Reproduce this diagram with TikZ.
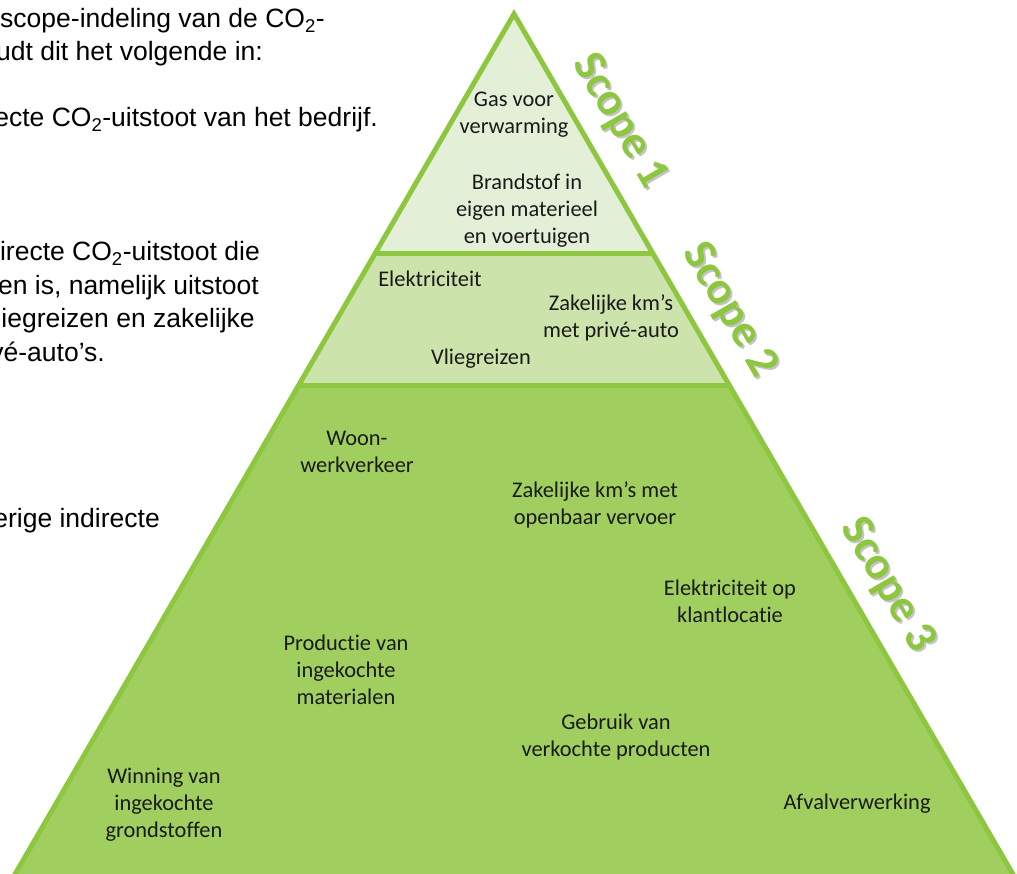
\documentclass[tikz,border=0pt]{standalone}
\usepackage{fontspec}
\setmainfont[Ligatures=NoCommon]{Carlito}
\newfontfamily\arialf{Liberation Sans}
\definecolor{edge}{HTML}{8DC63F}
\definecolor{sone}{HTML}{E4EFD8}
\definecolor{stwo}{HTML}{CCE3AB}
\definecolor{sthree}{HTML}{A1CF5F}
\definecolor{scshade}{HTML}{C4C4C4}
\definecolor{ink}{HTML}{1A1A1A}
\newcommand\scopetext[1]{\makebox[0pt][l]{\hspace{2.7pt}\raisebox{0.7pt}{\textcolor{scshade}{#1}}}#1}
\begin{document}
\begin{tikzpicture}[x=1pt,y=-1pt,
  item/.style={font=\fontsize{22.4}{27}\selectfont, align=center, text=ink, inner sep=0pt},
  side/.style={font=\arialf\fontsize{26.5}{33}\selectfont, text=black, anchor=base east, inner sep=0pt},
  scopelbl/.style={font=\bfseries\fontsize{46}{52}\selectfont, text=edge, rotate=-59.9, inner sep=0pt},
  rim/.style={draw=edge, line width=5pt, line join=miter}]
\useasboundingbox (0,0) rectangle (1017,874);
\clip (0,0) rectangle (1017,874);
% left text
\node[side] (t1) at (325,28) {scope-indeling van de CO\textsubscript{2}-};
\node[side] (t2) at (263,61) {udt dit het volgende in:};
\node[side] (t3) at (378,127) {ecte CO\textsubscript{2}-uitstoot van het bedrijf.};
\node[side] (t4) at (260,261) {irecte CO\textsubscript{2}-uitstoot die};
\node[side] (t5) at (259,295) {en is, namelijk uitstoot};
\node[side] (t6) at (255,328) {iegreizen en zakelijke};
\node[side] (t7) at (105,362) {vé-auto’s.};
\node[side] (t8) at (160,527) {erige indirecte};
% pyramid
\coordinate (A) at (514,14);
\coordinate (L1) at (374.8,254); \coordinate (R1) at (653.2,254);
\coordinate (L2) at (298.8,385); \coordinate (R2) at (729.2,385);
\coordinate (BL) at (11.7,880); \coordinate (BR) at (1016.3,880);
\fill[sone] (A) -- (L1) -- (R1) -- cycle;
\fill[stwo] (L1) -- (L2) -- (R2) -- (R1) -- cycle;
\fill[sthree] (L2) -- (BL) -- (BR) -- (R2) -- cycle;
\draw[rim] (L1) -- (R1);
\draw[rim] (L2) -- (R2);
\draw[rim] (A) -- (BL) -- (BR) -- cycle;
% items
\node[item] (gas) at (514,115) {Gas voor\\verwarming};
\node[item] (brand) at (527,211) {Brandstof in\\eigen materieel\\en voertuigen};
\node[item] (elek) at (430,279) {Elektriciteit};
\node[item] (zakp) at (611,318) {Zakelijke km’s\\met privé-auto};
\node[item] (vlieg) at (481,359) {Vliegreizen};
\node[item] (woon) at (357,452) {Woon-\\werkverkeer};
\node[item] (zako) at (595,505) {Zakelijke km’s met\\openbaar vervoer};
\node[item] (elekk) at (730,601) {Elektriciteit op\\klantlocatie};
\node[item] (prod) at (346,670) {Productie van\\ingekochte\\materialen};
\node[item] (gebr) at (616,737) {Gebruik van\\verkochte producten};
\node[item] (afval) at (857,804) {Afvalverwerking};
\node[item] (winn) at (164,805) {Winning van\\ingekochte\\grondstoffen};
% scope labels
\node[scopelbl] (s1) at (620,121) {\scopetext{Scope 1}};
\node[scopelbl] (s2) at (730,310) {\scopetext{Scope 2}};
\node[scopelbl] (s3) at (888,585) {\scopetext{Scope 3}};
\end{tikzpicture}
\end{document}
